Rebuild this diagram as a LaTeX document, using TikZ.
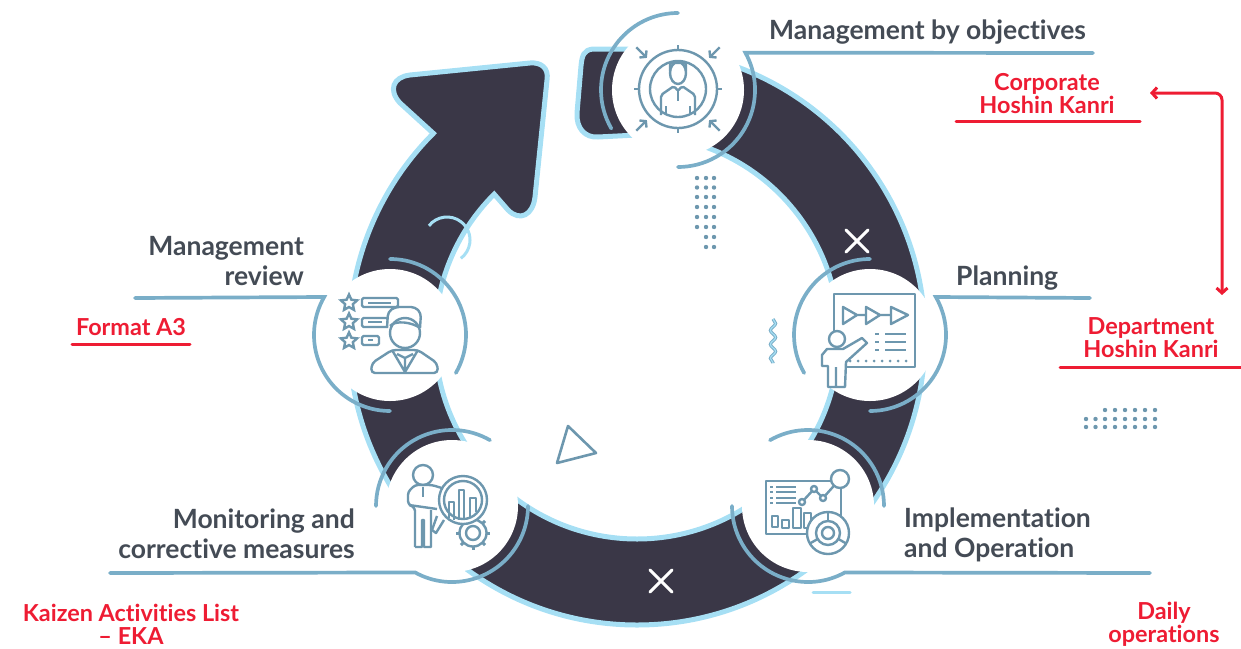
\documentclass[tikz,border=0pt]{standalone}
\usepackage{fontspec}
\setmainfont{Lato}[Ligatures=NoCommon]
\usetikzlibrary{arrows.meta,calc,shapes.geometric,decorations.pathmorphing}
\definecolor{banddark}{HTML}{3A3747}
\definecolor{bandlight}{HTML}{A6DFF4}
\definecolor{arcblue}{HTML}{7AAEC8}
\definecolor{iconblue}{HTML}{6D97AE}
\definecolor{headgrey}{HTML}{444B55}
\definecolor{redtxt}{HTML}{EE1C33}
\tikzset{
	ringband/.style={draw=bandlight,fill=banddark,line width=5pt,line join=miter},
	hub/.style={circle,fill=white,minimum size=132pt,inner sep=0pt},
	hubarc/.style={draw=arcblue,line width=3.7pt,line cap=round},
	iconline/.style={draw=iconblue,line width=2.4pt,line join=round},
	headtext/.style={text=headgrey,font=\fontsize{26.5}{30}\selectfont\bfseries,inner sep=0pt},
	redtext/.style={text=redtxt,font=\fontsize{23.4}{23}\selectfont\bfseries,inner sep=0pt,align=center},
	redrule/.style={draw=redtxt,line width=3pt,line cap=round},
	redarrow/.style={draw=redtxt,line width=3pt,rounded corners=7pt,{Straight Barb[length=5pt,width=11pt]}-{Straight Barb[length=5pt,width=11pt]}},
	deco/.style={fill=iconblue,circle,inner sep=0pt,minimum size=4.4pt},
	staricon/.style={star,star points=5,star point ratio=2.1,draw=iconblue,line width=2.4pt,minimum size=17pt,inner sep=0pt}
}
\begin{document}
\begin{tikzpicture}[x=1pt,y=-1pt]
	\useasboundingbox (0,0) rectangle (1241,648);
	\coordinate (ringc) at (637,337);
	% ring with arrow head
	\path[ringband] (637,49) arc (-90:225:288) -- (400,103) .. controls (388,90) and (393,77) .. (410,75)
		-- (530,63) .. controls (541,62) and (549,68) .. (547,80)
		-- (535,197) .. controls (533,215) and (520,222) .. (508,210)
		-- ($(ringc)+(225:202)$) arc (225:-90:202) -- (598,137) .. controls (585,138) and (576,128) .. (577,113)
		-- (581,66) .. controls (582,55) and (584,50) .. (593,49) -- cycle;
	\draw[bandlight,line width=3pt] (447,240) ++(-142:23) arc (-142:53:23);
	\foreach \p in {(857,241),(661,581)} {
		\draw[white,line width=3pt,line cap=round] \p ++(-11,-11) -- ++(22,22);
		\draw[white,line width=3pt,line cap=round] \p ++(-11,11) -- ++(22,-22);
	}
	% hubs
	\node[hub] (hubtop) at (678,90) {};
	\node[hub] (hubleft) at (390,335) {};
	\node[hub] (hubright) at (870,335) {};
	\node[hub] (hubbr) at (808,506) {};
	\node[hub] (hubbl) at (452,506) {};
	% arcs and leaders
	\coordinate (leadtop) at (1093,53);
	\coordinate (leadleft) at (135,298);
	\coordinate (leadright) at (1090,298);
	\coordinate (leadbr) at (1150,573);
	\coordinate (leadbl) at (110,573);
	\draw[hubarc] (hubtop) ++(-90:77) arc (-90:-210:77);
	\draw[hubarc] (leadtop) -- ($(hubtop)+(-29:77)$) arc (-29:90:77);
	\draw[hubarc] (hubleft) ++(-90:76) arc (-90:30:76);
	\draw[hubarc] (leadleft) -- ($(hubleft)+(-150:76)$) arc (-150:-270:76);
	\draw[hubarc] (hubright) ++(-90:76) arc (-90:-210:76);
	\draw[hubarc] (leadright) -- ($(hubright)+(-30:76)$) arc (-30:90:76);
	\draw[hubarc] (hubbr) ++(-120:76) arc (-120:0:76);
	\draw[hubarc] (leadbr) -- ($(hubbr)+(61:76)$) arc (61:180:76);
	\draw[hubarc] (hubbl) ++(-60:76) arc (-60:-180:76);
	\draw[hubarc] (leadbl) -- ($(hubbl)+(119:76)$) arc (119:0:76);
	\draw[bandlight,line width=3pt,line cap=round] (813,592) -- (850,592);
	% top icon
	\begin{scope}[shift={(678,89)}]
		\draw[iconline] (0,0) circle (39) (0,0) circle (28);
		\foreach \a in {0,90,180,270} \draw[iconline] (\a:39) -- (\a:44);
		\foreach \a in {45,135,225,315} \draw[iconline,-{Straight Barb[length=4pt,width=10pt]}] (\a:59) -- (\a:44);
		\draw[iconline] (0,-16) ellipse (8 and 11);
		\draw[iconline,rounded corners=2pt] (-8,-18) -- (-8,-26) -- (8,-26) -- (8,-18);
		\draw[iconline,rounded corners=2pt] (-17,26) -- (-17,6) -- (-4,-3) -- (0,2) -- (4,-3) -- (17,6) -- (17,26);
		\draw[iconline] (-12,26) -- (-12,17) (12,26) -- (12,17) (0,2) -- (0,12);
	\end{scope}
	% left icon
	\foreach \i/\y in {1/303,2/322,3/341} \node[staricon] (star\i) at (349,\y) {};
	\draw[iconline,rounded corners=1.5pt] (362,298) rectangle (398,307) (362,318) rectangle (388,327) (362,336) rectangle (379,345);
	\draw[iconline] (368,303) -- (391,303) (368,322) -- (382,322) (368,340) -- (373,340);
	\draw[iconline,fill=white,rounded corners=4pt] (387,328) -- (388,312) -- (395,307) -- (415,307) -- (421,313) -- (420,328);
	\draw[iconline,fill=white] (405,333) ellipse (15 and 15);
	\draw[iconline] (390,326) .. controls (395,320) and (412,322) .. (420,328);
	\draw[iconline,rounded corners=4pt] (371,373) -- (372,363) -- (392,350) -- (418,350) -- (437,363) -- (438,373) -- cycle;
	\draw[iconline] (392,350) -- (405,372) -- (418,350) (397,354) -- (405,358) -- (413,354) (405,358) -- (405,372);
	% right icon
	\draw[iconline] (834,332) -- (834,294) -- (915,294) -- (915,367) -- (847,367);
	\draw[iconline] (843,307) -- (843,324) -- (857,315) -- cycle (857,315) -- (866,315);
	\draw[iconline] (866,307) -- (866,324) -- (880,315) -- cycle (880,315) -- (891,315);
	\draw[iconline] (891,307) -- (891,324) -- (908,315) -- cycle;
	\foreach \y in {334,342,350} \draw[iconline] (875,\y) -- (879,\y) (885,\y) -- (906,\y);
	\foreach \x in {850,858,...,908} \fill[iconblue] (\x,361) circle (1.5);
	\draw[iconline,fill=white] (837,339) circle (8);
	\draw[iconline] (822,366) -- (822,355) -- (827,349) -- (843,349) -- (862,338) -- (867,343) -- (846,362) -- (845,387) -- (828,387) -- (828,366) -- cycle (836,367) -- (836,387);
	% bottom right icon
	\draw[iconline] (766,481) rectangle (841,534);
	\foreach \y in {487,492,498,503} \draw[iconline] (770,\y) -- (773,\y) (776,\y) -- (796,\y);
	\draw[iconline] (772,516) rectangle (778,527) (782,520) rectangle (789,528) (793,508) rectangle (801,528) (804,513) rectangle (811,528);
	\draw[iconline] (802,502) -- (814,489) -- (823,498) -- (840,479);
	\foreach \p in {(802,502),(814,489),(823,498)} \draw[iconline,fill=white] \p circle (3);
	\draw[iconline,fill=white] (840,479) circle (9);
	\draw[iconline,fill=white] (828,533) circle (21) (828,533) circle (12) (828,533) circle (6);
	\foreach \a in {-90,30,150} \draw[iconline] (828,533) ++(\a:12) -- ++(\a:9);
	% bottom left icon
	\foreach \a in {0,45,...,315} \draw[iconline,line width=3pt] (473,533) ++(\a:13) -- ++(\a:4);
	\draw[iconline,fill=white] (473,533) circle (13.5) (473,533) circle (7);
	\draw[iconline] (437,516) -- (432,530) -- (436,533) -- (444,520);
	\draw[iconline,fill=white] (423,475) circle (10);
	\draw[iconline,rounded corners=3pt] (415,547) -- (415,508) -- (408,504) -- (408,492) -- (415,485) -- (432,485) -- (445,489);
	\draw[iconline] (409,505) -- (437,509) (431,510) -- (431,547) -- (424,547) -- (424,520) -- (422,520) -- (422,547) -- (415,547);
	\draw[iconline] (423,487) -- (423,497);
	\draw[iconline,fill=white] (463,500) circle (24) (463,500) circle (19);
	\draw[iconline] (449,518) -- (449,502) -- (454,502) -- (454,520) (459,520) -- (459,490) -- (464,490) -- (464,520) (470,518) -- (470,498) -- (476,498) -- (476,512);
	% small decoration
	\foreach \x in {697,706,714} \foreach \y in {178,187.5,197,207,217,227} \node[deco] (dot\x-\y) at (\x,\y) {};
	\foreach \x in {706,714} \foreach \y in {237,247} \node[deco] (dot\x-\y) at (\x,\y) {};
	\foreach \x in {1086,1095.5,1105,1115,1125,1135,1145,1155} \node[deco] (dotr\x) at (\x,427) {};
	\foreach \x in {1086,1095.5,1105,1115,1125,1135,1145,1155} \node[deco] (dots\x) at (\x,419) {};
	\foreach \x in {1105,1115,1125,1135,1145,1155} \node[deco] (dott\x) at (\x,410) {};
	\draw[iconline,line width=2.6pt] (568,426) -- (596,453) -- (557,463) -- cycle;
	\draw[arcblue,line width=3.2pt,decorate,decoration={snake,amplitude=2.6pt,segment length=14pt}] (773,319) -- (773,363);
	\draw[bandlight,line width=1.2pt,decorate,decoration={snake,amplitude=2.6pt,segment length=14pt}] (773,319) -- (773,363);
	% labels
	\node[headtext,anchor=west] (objtxt) at (769,32) {Management by objectives};
	\node[headtext,anchor=east,align=right] (revtxt) at (304,261) {Management\\review};
	\node[headtext,anchor=west] (plantxt) at (956,278) {Planning};
	\node[headtext,anchor=east,align=right] (montxt) at (355,534) {Monitoring and\\corrective measures};
	\node[headtext,anchor=west,align=left] (imptxt) at (904,535) {Implementation\\and Operation};
	\node[redtext] (corp) at (1047,94) {Corporate\\Hoshin Kanri};
	\node[redtext] (dept) at (1151,338) {Department\\Hoshin Kanri};
	\node[redtext] (fmt) at (131,327) {Format A3};
	\node[redtext] (kaizen) at (131,624) {Kaizen Activities List\\– EKA};
	\node[redtext] (daily) at (1164,624) {Daily\\operations};
	\draw[redrule] (956,121) -- (1140,121);
	\draw[redrule] (1060,367) -- (1241,367);
	\draw[redrule] (72,344) -- (190,344);
	\coordinate (corpend) at (1150,93);
	\coordinate (deptend) at (1222,295);
	\draw[redarrow] (corpend) -| (deptend);
\end{tikzpicture}
\end{document}
